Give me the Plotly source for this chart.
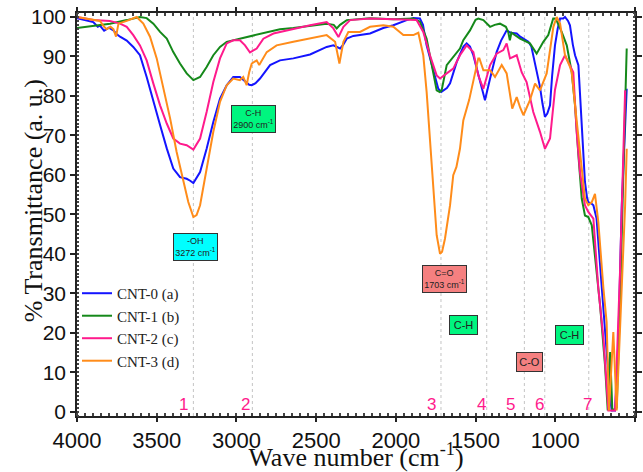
import plotly.graph_objects as go

# ---------------- data ----------------
wn_cnt0 = [4000, 3950, 3898, 3870, 3856, 3830, 3800, 3772, 3750, 3730, 3688, 3647, 3605, 3563, 3521,
           3479, 3437, 3396, 3354, 3312, 3290, 3270, 3228, 3187, 3145, 3103, 3061, 3020, 2978, 2946,
           2920, 2904, 2880, 2852, 2789, 2727, 2643, 2538, 2434, 2392, 2350, 2330, 2308, 2267, 2162,
           2079, 2016, 1932, 1890, 1849, 1830, 1807, 1786, 1765, 1734, 1715, 1702, 1680, 1660, 1638,
           1618, 1598, 1576, 1556, 1535, 1514, 1492, 1472, 1441, 1409, 1388, 1368, 1340, 1305, 1280,
           1242, 1220, 1200, 1169, 1150, 1138, 1117, 1096, 1080, 1065, 1050, 1033, 1020, 1002, 985,
           970, 950, 939, 920, 908, 890, 876, 855, 845, 834, 824, 814, 800, 793, 775, 761, 741, 725,
           709, 690, 667, 655, 646, 625, 615, 604, 583, 565, 552]
t_cnt0 = [99.7, 99.2, 98.7, 97.5, 97.8, 96.5, 97.3, 96.6, 95.6, 95.0, 94.0, 92.4, 90.3, 84.8, 78.5,
          72.6, 66.7, 61.6, 59.4, 59.0, 58.5, 57.9, 60.7, 66.6, 73.4, 79.3, 82.7, 84.8, 84.8, 83.8,
          82.8, 82.7, 83.2, 84.4, 87.8, 89.0, 89.5, 90.5, 92.4, 92.8, 92.0, 93.0, 94.5, 95.2, 95.8,
          97.2, 97.9, 99.2, 99.7, 99.6, 98.0, 92.8, 89.5, 86.0, 81.8, 81.0, 81.3, 82.0, 83.2, 86.0,
          88.6, 90.5, 92.5, 93.3, 92.5, 90.3, 87.0, 83.5, 78.9, 84.4, 88.0, 91.1, 94.0, 96.6, 96.0,
          95.8, 95.0, 94.5, 93.7, 92.5, 90.3, 86.0, 82.3, 78.0, 74.7, 75.5, 77.6, 85.0, 92.8, 97.0,
          99.6, 99.6, 100.0, 99.0, 97.9, 93.0, 90.3, 87.8, 81.0, 73.4, 66.0, 58.2, 54.0, 53.1, 52.8,
          52.3, 48.9, 40.0, 31.2, 22.0, 10.0, 3.0, 0.3, 0.3, 8.0, 18.5, 52.3, 72.0, 81.8]

wn_cnt1 = [4000, 3898, 3793, 3688, 3605, 3563, 3521, 3479, 3437, 3396, 3354, 3312, 3270, 3228, 3187,
           3145, 3103, 3061, 2978, 2894, 2810, 2727, 2643, 2434, 2390, 2371, 2350, 2308, 2162, 2016,
           1890, 1849, 1807, 1776, 1744, 1725, 1713, 1681, 1640, 1598, 1577, 1535, 1500, 1483, 1451,
           1409, 1380, 1347, 1310, 1295, 1285, 1275, 1221, 1159, 1117, 1075, 1044, 1013, 1002, 991,
           960, 928, 897, 876, 855, 834, 814, 793, 771, 751, 719, 688, 671, 656, 642, 615, 594, 573, 552]
t_cnt1 = [97.2, 97.7, 98.3, 99.2, 100.0, 99.7, 98.3, 96.2, 94.5, 91.1, 88.2, 85.7, 84.0, 84.8, 87.3,
          90.3, 92.4, 93.7, 94.5, 95.4, 96.2, 96.9, 97.2, 98.3, 98.0, 97.1, 98.0, 99.2, 99.7, 99.4,
          99.6, 98.8, 94.5, 87.8, 81.4, 81.0, 81.4, 87.8, 89.9, 92.0, 94.1, 96.6, 99.3, 99.6, 99.2,
          97.5, 98.0, 98.3, 97.5, 96.2, 94.1, 96.0, 94.5, 93.3, 90.7, 93.7, 95.4, 99.6, 99.6, 99.0,
          96.2, 92.8, 86.0, 77.6, 65.0, 54.0, 49.7, 49.3, 47.2, 39.6, 26.9, 11.7, 0.3, 15.1, 0.3,
          1.0, 27.0, 60.7, 92.0]

wn_cnt2 = [4000, 3898, 3793, 3730, 3688, 3647, 3605, 3563, 3521, 3479, 3437, 3396, 3354, 3312, 3270,
           3228, 3187, 3145, 3103, 3061, 3020, 2978, 2946, 2915, 2873, 2831, 2768, 2727, 2643, 2538,
           2434, 2392, 2360, 2329, 2287, 2162, 2016, 1870, 1828, 1786, 1744, 1723, 1681, 1640, 1598,
           1556, 1514, 1483, 1451, 1409, 1368, 1326, 1305, 1284, 1242, 1211, 1180, 1138, 1096, 1065,
           1033, 1002, 970, 939, 918, 897, 887, 866, 845, 814, 793, 761, 730, 698, 667, 625, 594, 562]
t_cnt2 = [100.0, 99.2, 99.0, 98.3, 97.5, 95.4, 92.8, 89.0, 83.1, 77.6, 73.0, 69.2, 67.9, 67.5, 66.4,
          69.2, 75.9, 83.5, 89.5, 93.3, 94.1, 94.1, 92.8, 91.0, 92.0, 94.5, 95.8, 96.2, 97.0, 97.9,
          98.7, 97.1, 94.9, 97.5, 99.2, 99.6, 99.4, 99.2, 96.2, 90.3, 85.2, 84.4, 85.7, 86.9, 90.3,
          92.8, 91.1, 85.2, 81.8, 87.8, 90.7, 91.6, 93.3, 89.5, 90.3, 86.0, 83.5, 75.9, 70.9, 66.6,
          69.2, 81.5, 87.8, 90.3, 88.5, 87.0, 86.0, 70.9, 60.7, 52.3, 50.6, 48.9, 31.2, 18.5, 0.3,
          0.3, 35.4, 81.4]

wn_cnt3 = [4000, 3898, 3856, 3830, 3814, 3790, 3772, 3755, 3740, 3688, 3626, 3584, 3542, 3500, 3458,
           3416, 3375, 3333, 3302, 3270, 3250, 3228, 3187, 3145, 3103, 3061, 3020, 2978, 2957, 2936,
           2920, 2904, 2873, 2857, 2810, 2748, 2643, 2538, 2434, 2381, 2354, 2329, 2298, 2225, 2162,
           2079, 2016, 1953, 1890, 1859, 1828, 1807, 1786, 1765, 1744, 1723, 1710, 1692, 1660, 1640,
           1620, 1598, 1577, 1540, 1514, 1483, 1476, 1451, 1409, 1378, 1336, 1305, 1270, 1242, 1220,
           1200, 1159, 1127, 1096, 1054, 1012, 991, 970, 939, 907, 897, 876, 845, 814, 793, 771, 751,
           730, 698, 678, 663, 636, 615, 583, 562, 552]
t_cnt3 = [100.0, 99.2, 99.0, 97.5, 96.9, 97.5, 96.9, 95.0, 98.3, 99.0, 100.0, 98.3, 95.0, 89.5, 81.9,
          74.3, 65.8, 58.2, 53.1, 49.3, 49.8, 52.3, 61.6, 70.9, 78.5, 82.7, 84.4, 84.0, 84.8, 82.7,
          86.0, 88.2, 89.0, 87.8, 91.1, 92.8, 93.7, 94.5, 95.4, 93.7, 88.2, 93.7, 96.2, 96.2, 97.5,
          97.9, 97.5, 95.4, 95.4, 96.0, 90.3, 81.0, 69.2, 55.7, 44.7, 40.0, 40.5, 43.8, 52.3, 59.9,
          62.0, 66.6, 73.8, 79.0, 84.0, 89.5, 89.5, 86.5, 86.5, 84.8, 87.8, 85.7, 76.8, 79.7, 77.0,
          75.1, 78.9, 83.1, 81.4, 85.7, 97.5, 100.0, 98.3, 90.3, 87.3, 86.0, 77.6, 65.0, 54.0, 52.3,
          53.1, 55.2, 48.0, 31.2, 22.7, 0.3, 20.2, 0.3, 31.0, 52.3, 66.6]

series_names = ["CNT-0 (a)", "CNT-1 (b)", "CNT-2 (c)", "CNT-3 (d)"]
x_ticks = [4000, 3500, 3000, 2500, 2000, 1500, 1000, 500]
y_ticks = [0, 10, 20, 30, 40, 50, 60, 70, 80, 90, 100]
x_title = "Wave number (cm<sup>-1</sup>)"
y_title = "% Transmittance (a. u.)"

# band markers: wavenumber of each dotted line, its number and where the number sits
band_lines = [3270, 2900, 1717, 1430, 1194, 1066, 790]
band_numbers = ["1", "2", "3", "4", "5", "6", "7"]
band_number_x = [3333, 2946, 1775, 1462, 1280, 1096, 800]

# annotation boxes: text, wavenumber, %T
box_texts = ["C-H<br>2900 cm<sup>-1</sup>", "-OH<br>3272 cm<sup>-1</sup>", "C=O<br>1703 cm<sup>-1</sup>",
             "C-H", "C-O", "C-H"]
box_x = [2896, 3254, 1698, 1577, 1159, 912]
box_y = [74.1, 41.8, 33.7, 21.9, 12.6, 19.5]

# ---------------- styling ----------------
colors = ["#1414ff", "#15891a", "#ff1a8c", "#ff8c1a"]
box_colors = ["#00f57f", "#00ffff", "#f58080", "#00f57f", "#f58080", "#00f57f"]

fig = go.Figure()
for name, xs, ys, c in zip(series_names, [wn_cnt0, wn_cnt1, wn_cnt2, wn_cnt3],
                           [t_cnt0, t_cnt1, t_cnt2, t_cnt3], colors):
    fig.add_trace(go.Scatter(x=xs, y=ys, mode="lines", name=name,
                             line=dict(color=c, width=2)))

for xv in band_lines:
    fig.add_shape(type="line", xref="x", yref="paper", x0=xv, x1=xv, y0=0, y1=1,
                  line=dict(color="#c4c4c4", width=1, dash="dot"), layer="below")

for xv, lab in zip(band_number_x, band_numbers):
    fig.add_annotation(x=xv, y=1.9, xref="x", yref="y", text=lab, showarrow=False,
                       font=dict(family="Liberation Sans, Arial", size=17, color="#ff1a8c"))

for txt, xv, yv, bc in zip(box_texts, box_x, box_y, box_colors):
    two = "<br>" in txt
    fig.add_annotation(x=xv, y=yv, xref="x", yref="y", text=txt, showarrow=False,
                       bgcolor=bc, bordercolor="#333333", borderwidth=1, borderpad=1,
                       width=41 if two else (25 if txt != "C-O" else 23),
                       height=24 if two else 16,
                       font=dict(family="Liberation Sans, Arial", size=9 if two else 11,
                                 color="#222222"))

# y-axis title placed as rotated text so it can sit as close to the tick labels as in the reference
fig.add_annotation(x=-0.079, y=0.535, xref="paper", yref="paper", text=y_title,
                   textangle=-90, showarrow=False, xanchor="center", yanchor="middle",
                   font=dict(family="Liberation Serif, Times New Roman", size=26, color="#111111"))

fig.update_layout(
    width=643, height=472,
    margin=dict(l=77, r=8, t=13, b=56, autoexpand=False),
    paper_bgcolor="white", plot_bgcolor="white",
    showlegend=True,
    legend=dict(x=0.0, y=0.345, xanchor="left", yanchor="top",
                bgcolor="rgba(0,0,0,0)", borderwidth=0,
                font=dict(family="Liberation Serif, Times New Roman", size=15, color="#222222"),
                tracegroupgap=0),
    xaxis=dict(range=[4000, 500], tickvals=x_ticks, ticks="outside", ticklen=4,
               tickwidth=1.5, tickcolor="#222222", automargin=False,
               showline=True, linecolor="#222222", linewidth=1.5, mirror="allticks",
               showgrid=False, zeroline=False,
               minor=dict(dtick=50, ticks="inside", ticklen=3, tickcolor="#444444", showgrid=False),
               tickfont=dict(family="Liberation Sans, Arial", size=22, color="#111111"),
               title=dict(text=x_title, standoff=0,
                          font=dict(family="Liberation Serif, Times New Roman", size=26,
                                    color="#111111"))),
    yaxis=dict(range=[-1.1, 101], tickvals=y_ticks, ticks="outside", ticklen=5,
               tickwidth=1.5, tickcolor="#222222", automargin=False,
               showline=True, linecolor="#222222", linewidth=1.5, mirror="allticks",
               showgrid=False, zeroline=False,
               minor=dict(dtick=1, ticks="inside", ticklen=2, tickcolor="#444444", showgrid=False),
               tickfont=dict(family="Liberation Sans, Arial", size=21, color="#111111")),
)

# remove the page's default body margin so the 643x472 figure fills the window exactly
fig.write_html("out.html", config={"displayModeBar": False},
               post_script="document.body.style.margin='0px';")
